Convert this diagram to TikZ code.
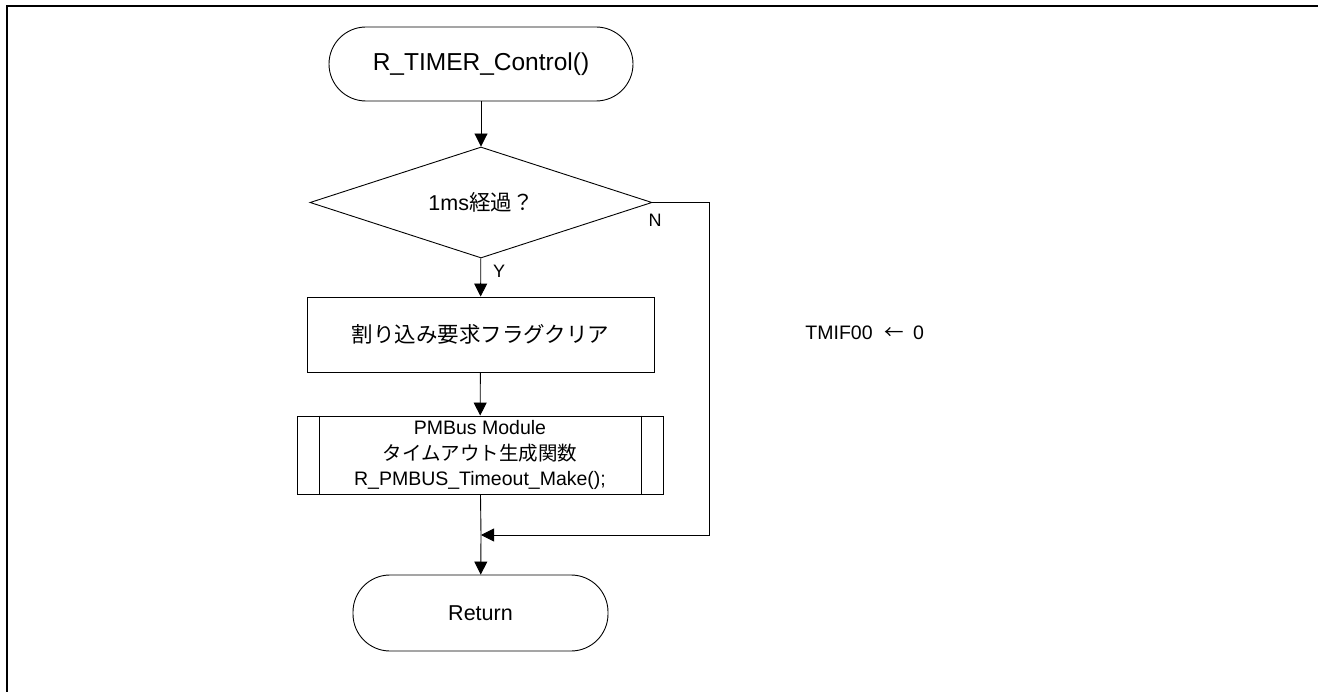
\documentclass[tikz,border=0pt]{standalone}
\usepackage{fontspec}
\setmainfont{Liberation Sans}
\newfontfamily\jp{Noto Sans CJK JP}
\usetikzlibrary{shapes.geometric,arrows.meta}
\begin{document}
\begin{tikzpicture}[x=1pt,y=-1pt,line width=0.9pt,
  term/.style={draw,rectangle,rounded corners=37pt,inner sep=0pt,font=\fontsize{21.5}{25}\selectfont},
  proc/.style={draw,rectangle,inner sep=0pt,font=\fontsize{21.5}{25}\selectfont},
  dec/.style={draw,diamond,shape aspect=3.08,inner sep=0pt,font=\fontsize{21.5}{25}\selectfont},
  arr/.style={-{Triangle[length=13pt,width=13pt]}},
  lbl/.style={inner sep=0pt,font=\fontsize{18}{20}\selectfont}]
\useasboundingbox (0,0) rectangle (1318,692);
\draw[line width=2pt] (7,692) -- (7,6.5) -- (1318,6.5);

\node[term,minimum width=304pt,minimum height=74pt,font=\fontsize{24.5}{28}\selectfont] (start) at (481,64) {R\_TIMER\_Control()};
\node[dec,minimum width=342pt,minimum height=111pt] (dec) at (481,202.5) {1ms{\jp 経過？}};
\node[proc,minimum width=347pt,minimum height=75pt] (clr) at (480.5,334.5) {{\jp 割り込み要求フラグクリア}};
\node[proc,minimum width=366pt,minimum height=78pt,align=center,font=\fontsize{19.5}{25.5}\selectfont] (sub) at (480,455)
  {PMBus Module\\{\jp タイムアウト生成関数}\\R\_PMBUS\_Timeout\_Make();};
\draw ([xshift=23pt]sub.north west) -- ([xshift=23pt]sub.south west);
\draw ([xshift=-22pt]sub.north east) -- ([xshift=-22pt]sub.south east);
\node[term,minimum width=255pt,minimum height=76pt] (ret) at (480.5,613) {Return};

\coordinate (m) at (481,535);
\coordinate (c1) at (709,202.5);
\coordinate (c2) at (709,535);

\draw[arr] (start) -- (dec);
\draw[arr] (dec) -- (clr);
\draw[arr] (clr) -- (sub);
\draw (sub) -- (m);
\draw[arr] (m) -- (ret);
\draw[arr] (dec.east) -- (c1) -- (c2) -- (m);

\node[lbl] (y) at (499,271) {Y};
\node[lbl] (n) at (655,220) {N};
\node[lbl,anchor=west,font=\fontsize{19.5}{21}\selectfont] (tmif) at (805,333) {TMIF00\hspace{12pt}{\jp ←}\hspace{9pt}0};
\end{tikzpicture}
\end{document}
